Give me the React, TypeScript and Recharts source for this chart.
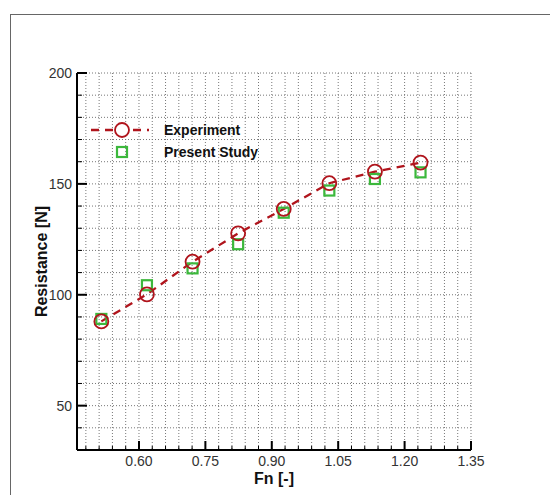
import React from 'react';
import { ComposedChart, Line, XAxis, YAxis, CartesianGrid, Label } from 'recharts';

// Froude numbers and resistance values
const fn = [0.515, 0.618, 0.721, 0.824, 0.927, 1.03, 1.133, 1.236];
const experiment = [88, 100.2, 114.9, 127.7, 138.7, 150.3, 155.5, 159.6];
const presentStudy = [89.1, 104.3, 111.9, 122.8, 137, 147, 152.2, 155.2];

const xTicks = [
  0.48, 0.51, 0.54, 0.57, 0.6, 0.63, 0.66, 0.69, 0.72, 0.75, 0.78, 0.81, 0.84, 0.87, 0.9,
  0.93, 0.96, 0.99, 1.02, 1.05, 1.08, 1.11, 1.14, 1.17, 1.2, 1.23, 1.26, 1.29, 1.32, 1.35,
];
const xMajor = [0.6, 0.75, 0.9, 1.05, 1.2, 1.35];
const yTicks = [40, 50, 60, 70, 80, 90, 100, 110, 120, 130, 140, 150, 160, 170, 180, 190, 200];
const yMajor = [50, 100, 150, 200];

const data = fn.map((f, i) => ({ fn: f, experiment: experiment[i], present: presentStudy[i] }));

const RED = '#b0141c';
const GREEN = '#3cb83c';
const FONT = '"Liberation Sans", Arial, sans-serif';

const isMajor = (list: number[], v: number) => list.some((m) => Math.abs(m - v) < 1e-6);

function XTick(props: any) {
  const { x, y, payload } = props;
  const major = isMajor(xMajor, payload.value);
  return (
    <g>
      <line x1={x} y1={y} x2={x} y2={y - (major ? 9 : 4)} stroke="#000" strokeWidth={major ? 2 : 1} />
      {major && (
        <text x={x} y={y + 16} textAnchor="middle" fontSize={14} fill="#333" fontFamily={FONT}>
          {payload.value.toFixed(2)}
        </text>
      )}
    </g>
  );
}

function YTick(props: any) {
  const { x, y, payload } = props;
  const major = isMajor(yMajor, payload.value);
  return (
    <g>
      <line x1={x} y1={y} x2={x + (major ? 10 : 5)} y2={y} stroke="#000" strokeWidth={major ? 2 : 1} />
      {major && (
        <text x={x - 5} y={y + 5} textAnchor="end" fontSize={14} fill="#333" fontFamily={FONT}>
          {payload.value}
        </text>
      )}
    </g>
  );
}

function SquareDot(props: any) {
  const { cx, cy } = props;
  if (cx == null || cy == null) return null;
  return <rect x={cx - 5} y={cy - 5} width={10} height={10} fill="none" stroke={GREEN} strokeWidth={2.2} />;
}

function CircleDot(props: any) {
  const { cx, cy } = props;
  if (cx == null || cy == null) return null;
  return <circle cx={cx} cy={cy} r={7} fill="none" stroke={RED} strokeWidth={1.8} />;
}

export default function App() {
  return (
    <div style={{ position: 'absolute', left: 0, top: 0, width: 550, height: 495, overflow: 'hidden', background: '#fff' }}>
      <div
        style={{
          position: 'absolute',
          left: 10,
          top: 14,
          width: 600,
          height: 600,
          borderTop: '1px solid #666',
          borderLeft: '1px solid #666',
        }}
      />
      <div style={{ position: 'absolute', left: 0, top: 0 }}>
        <ComposedChart width={550} height={495} data={data} margin={{ top: 73, right: 79, bottom: 0, left: 0 }}>
          <CartesianGrid stroke="#777" strokeDasharray="1 2" strokeWidth={1} />
          <XAxis
            dataKey="fn"
            type="number"
            domain={[0.46, 1.35]}
            ticks={xTicks}
            interval={0}
            height={45}
            tickSize={0}
            tickMargin={0}
            tickLine={false}
            tick={<XTick />}
            axisLine={{ stroke: '#000', strokeWidth: 2 }}
            allowDataOverflow
          >
            <Label
              content={(p: any) => {
                const vb = p.viewBox;
                return (
                  <text x={vb.x + vb.width / 2} y={vb.y + 34} textAnchor="middle" fontSize={16} fontWeight="bold" fontFamily={FONT} fill="#111">
                    Fn [-]
                  </text>
                );
              }}
            />
          </XAxis>
          <YAxis
            type="number"
            domain={[30, 200]}
            ticks={yTicks}
            interval={0}
            width={77}
            tickSize={0}
            tickMargin={0}
            tickLine={false}
            tick={<YTick />}
            axisLine={{ stroke: '#000', strokeWidth: 2 }}
            allowDataOverflow
          >
            <Label
              content={(p: any) => {
                const vb = p.viewBox;
                const cx = 47;
                const cy = vb.y + vb.height / 2;
                return (
                  <text x={cx} y={cy} transform={`rotate(-90, ${cx}, ${cy})`} textAnchor="middle" fontSize={16} fontWeight="bold" fontFamily={FONT} fill="#111">
                    Resistance [N]
                  </text>
                );
              }}
            />
          </YAxis>
          <Line dataKey="present" stroke="none" dot={<SquareDot />} activeDot={false} isAnimationActive={false} />
          <Line
            dataKey="experiment"
            stroke={RED}
            strokeWidth={2.3}
            strokeDasharray="8 6"
            dot={<CircleDot />}
            activeDot={false}
            isAnimationActive={false}
          />
        </ComposedChart>
      </div>
      <svg style={{ position: 'absolute', left: 88, top: 119 }} width={200} height={46}>
        <line x1={3} y1={11} x2={61} y2={11} stroke={RED} strokeWidth={2.3} strokeDasharray="8 6" />
        <circle cx={34} cy={11} r={7} fill="#fff" stroke={RED} strokeWidth={1.8} />
        <text x={76} y={16} fontSize={14} fontWeight="bold" fontFamily={FONT} fill="#111">
          Experiment
        </text>
        <rect x={29} y={28} width={10} height={10} fill="none" stroke={GREEN} strokeWidth={2.2} />
        <text x={76} y={38} fontSize={14} fontWeight="bold" fontFamily={FONT} fill="#111">
          Present Study
        </text>
      </svg>
    </div>
  );
}
